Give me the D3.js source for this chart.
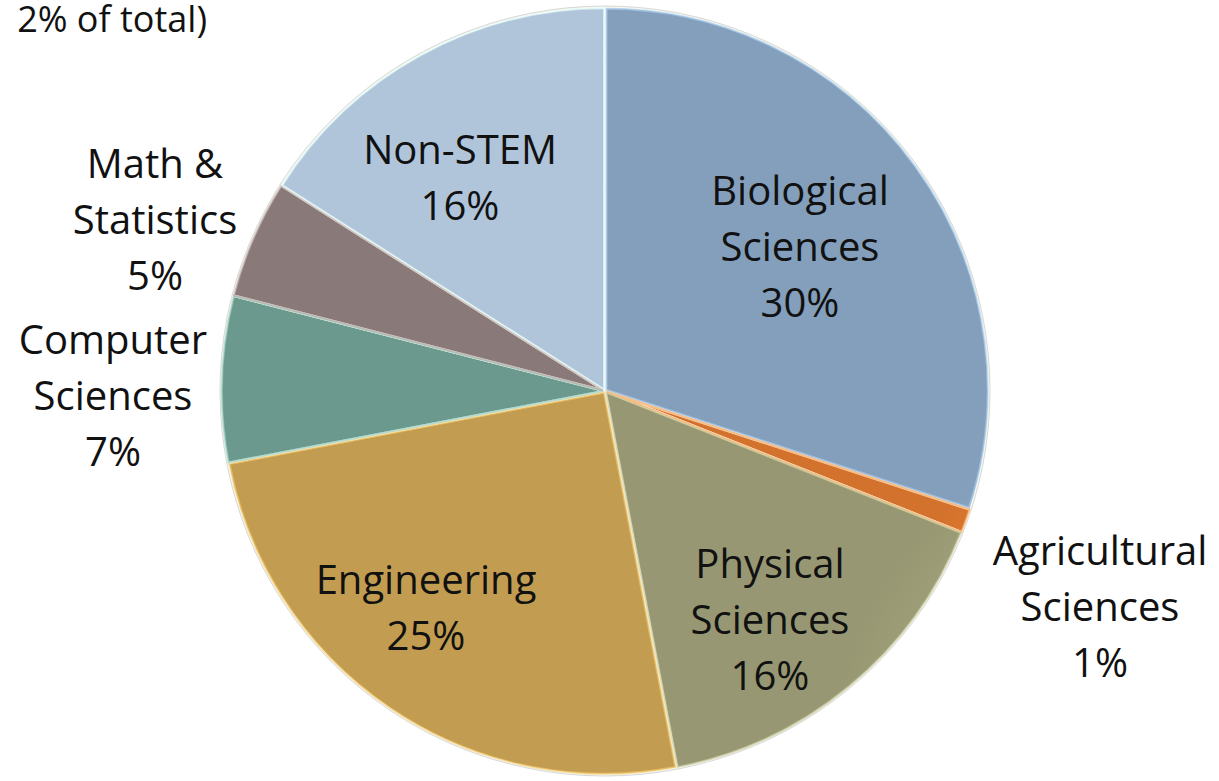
<!DOCTYPE html>
<html>
<head>
<meta charset="utf-8">
<script src="https://cdn.jsdelivr.net/npm/d3@7"></script>
<style>
  html, body { margin: 0; padding: 0; background: #fff; }
  svg { display: block; }
  text { font-family: "Open Sans", "Lato", sans-serif; fill: #111; }
</style>
</head>
<body>
<svg id="chart" width="1219" height="781"></svg>
<script>
// Share of doctorates by field, clockwise from 12 o'clock
const fields = ["Biological Sciences", "Agricultural Sciences", "Physical Sciences",
                "Engineering", "Computer Sciences", "Math & Statistics", "Non-STEM"];
const shares = [30, 1, 16, 25, 7, 5, 16];
const colors = ["#86a2bf", "#d8742e", "#9a9b75", "#c6a053", "#6d9c91", "#8c7c7c", "#b4c9df"];
// Label lines per slice (name lines followed by the percentage)
const labelLines = [["Biological", "Sciences"], ["Agricultural", "Sciences"], ["Physical", "Sciences"],
                    ["Engineering"], ["Computer", "Sciences"], ["Math &", "Statistics"], ["Non-STEM"]];
// Label anchor (centre x, first baseline y) for each slice
const labelPos = [[800, 205], [1100, 565], [770, 578], [426, 594], [113, 354], [155, 178], [460, 164]];
const titleText = "2% of total)";

const svg = d3.select("#chart");
const cx = 605, cy = 391, R = 384;

const pie = d3.pie().sort(null).value(d => d.value);
const data = pie(fields.map((f, i) => ({ name: f, value: shares[i], color: colors[i], i })));
const arc = d3.arc().innerRadius(0).outerRadius(R);

const defs = svg.append("defs");
// soft radial shading for each slice
data.forEach(d => {
  const g = defs.append("radialGradient")
    .attr("id", "shade" + d.data.i)
    .attr("gradientUnits", "userSpaceOnUse")
    .attr("cx", cx).attr("cy", cy).attr("r", R);
  const c = d3.color(d.data.color);
  g.append("stop").attr("offset", "0%").attr("stop-color", c.brighter(0.08));
  g.append("stop").attr("offset", "90%").attr("stop-color", c.brighter(0.03));
  g.append("stop").attr("offset", "100%").attr("stop-color", c.darker(0.06));
});

const pieG = svg.append("g").attr("transform", `translate(${cx},${cy})`);

pieG.selectAll("path.slice")
  .data(data)
  .join("path")
  .attr("class", "slice")
  .attr("d", arc)
  .attr("fill", d => `url(#shade${d.data.i})`)
  .attr("stroke", "#f4f8ee")
  .attr("stroke-width", 2.5)
  .attr("stroke-linejoin", "round");

// bevel highlight along slice edges
pieG.selectAll("path.bevel")
  .data(data)
  .join("path")
  .attr("class", "bevel")
  .attr("d", d3.arc().innerRadius(0).outerRadius(R - 3))
  .attr("fill", "none")
  .attr("stroke", d => d3.color(d.data.color).brighter(0.7))
  .attr("stroke-opacity", 0.6)
  .attr("stroke-width", 2)
  .attr("transform", d => {
    const a = (d.startAngle + d.endAngle) / 2;
    return `translate(${Math.sin(a) * 2},${-Math.cos(a) * 2})`;
  });

// outer rim
pieG.append("circle")
  .attr("r", R + 1)
  .attr("fill", "none")
  .attr("stroke", "#d8d8d8")
  .attr("stroke-width", 1);

// labels
const lineH = 56;
const labels = svg.append("g").attr("class", "labels");
data.forEach(d => {
  const i = d.data.i;
  const lines = labelLines[i].concat([d.data.value + "%"]);
  const [lx, ly] = labelPos[i];
  const t = labels.append("text")
    .attr("text-anchor", "middle")
    .attr("font-size", 40);
  lines.forEach((s, k) => {
    t.append("tspan").attr("x", lx).attr("y", ly + k * lineH).text(s);
  });
});

// title fragment in the corner
svg.append("text")
  .attr("x", 207).attr("y", 32)
  .attr("text-anchor", "end")
  .attr("font-size", 36)
  .text(titleText);
</script>
</body>
</html>
